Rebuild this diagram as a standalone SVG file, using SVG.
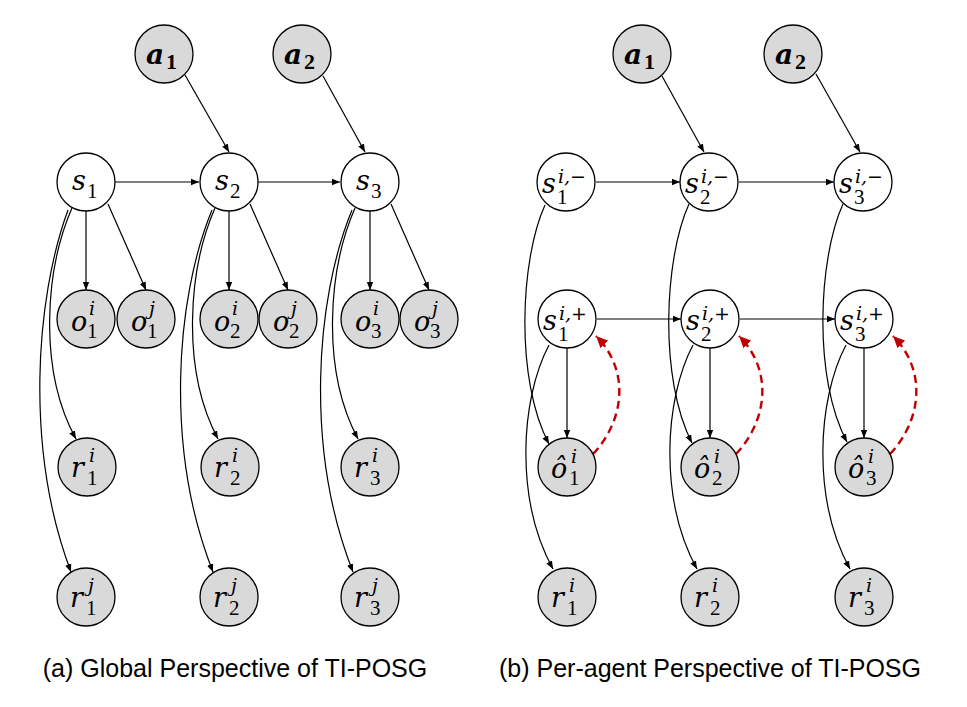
<svg xmlns="http://www.w3.org/2000/svg" width="967" height="707" viewBox="0 0 967 707">
<style>
.g{fill:#d9d9d9;stroke:#000;stroke-width:1.3}
.w{fill:#fff;stroke:#000;stroke-width:1.3}
.e{fill:none;stroke:#000;stroke-width:1.2;marker-end:url(#ah)}
.rd{fill:none;stroke:#c00000;stroke-width:2.4;stroke-dasharray:8,5;marker-end:url(#rh)}
.m{font-family:"DejaVu Serif","Liberation Serif",serif;font-style:italic;font-size:27px;fill:#000}
.b{font-family:"DejaVu Serif","Liberation Serif",serif;font-style:italic;font-weight:bold;font-size:28px;fill:#000}
.sb{font-family:"Liberation Serif","DejaVu Serif",serif;font-size:21px;fill:#000}
.sbb{font-family:"Liberation Serif","DejaVu Serif",serif;font-size:22px;font-weight:bold;fill:#000}
.sp{font-family:"DejaVu Serif","Liberation Serif",serif;font-style:italic;font-size:19px;fill:#000}
.cap{font-family:"Liberation Sans",Arial,sans-serif;font-size:25px;fill:#000;text-anchor:middle}
</style>
<defs>
<marker id="ah" markerUnits="userSpaceOnUse" markerWidth="10" markerHeight="8" refX="8" refY="4" orient="auto"><path d="M0,0.8 L8,4 L0,7.2 Z" fill="#000"/></marker>
<marker id="rh" markerUnits="userSpaceOnUse" markerWidth="14" markerHeight="12" refX="12" refY="6" orient="auto"><path d="M0,0.5 L12,6 L0,11.5 Z" fill="#c00000"/></marker>
</defs>
<rect width="967" height="707" fill="#fff"/>

<g id="connectors">
<line class="e" x1="185" y1="75" x2="229" y2="152"/>
<line class="e" x1="323" y1="76" x2="365" y2="152"/>
<line class="e" x1="115" y1="182" x2="199" y2="182"/>
<line class="e" x1="258" y1="182" x2="340" y2="182"/>
<line class="e" x1="86" y1="211" x2="86" y2="290"/>
<line class="e" x1="108" y1="204" x2="146" y2="290"/>
<line class="e" x1="229" y1="211" x2="229" y2="290"/>
<line class="e" x1="250" y1="204" x2="288" y2="290"/>
<line class="e" x1="370" y1="211" x2="370" y2="290"/>
<line class="e" x1="391" y1="204" x2="429" y2="290"/>
<path class="e" d="M72,208 C45,270 38,370 76,439"/>
<path class="e" d="M68,210 C35,300 25,450 71,572"/>
<path class="e" d="M215,208 C188,270 181,370 218,439"/>
<path class="e" d="M212,210 C175,300 165,450 213,572"/>
<path class="e" d="M355,208 C328,270 321,370 358,439"/>
<path class="e" d="M352,210 C315,300 305,450 353,572"/>
<line class="e" x1="662" y1="76" x2="704" y2="152"/>
<line class="e" x1="816" y1="74" x2="860" y2="152"/>
<line class="e" x1="596" y1="182" x2="680" y2="182"/>
<line class="e" x1="739" y1="182" x2="834" y2="182"/>
<line class="e" x1="597" y1="319" x2="681" y2="319"/>
<line class="e" x1="740" y1="319" x2="835" y2="319"/>
<line class="e" x1="567" y1="348" x2="567" y2="438"/>
<line class="e" x1="710" y1="348" x2="710" y2="438"/>
<line class="e" x1="864" y1="348" x2="864" y2="438"/>
<path class="e" d="M545,205 C520,260 515,380 549,444"/>
<path class="e" d="M549,345 C520,400 515,500 553,569"/>
<path class="e" d="M689,204 C664,259 659,379 692,443"/>
<path class="e" d="M693,345 C664,400 659,500 697,569"/>
<path class="e" d="M843,204 C818,259 813,379 847,442"/>
<path class="e" d="M846,345 C817,400 812,500 850,569"/>
<path class="rd" d="M593,454 C625,420 630,370 596,336"/>
<path class="rd" d="M736,454 C768,420 773,370 739,336"/>
<path class="rd" d="M890,454 C922,420 927,370 893,336"/>
</g>

<g id="L_a1"><circle class="g" cx="164" cy="54" r="29"/><text class="b" x="146" y="64">a</text><text class="sbb" x="166" y="69">1</text></g>
<g id="L_a2"><circle class="g" cx="302" cy="54" r="29"/><text class="b" x="284" y="64">a</text><text class="sbb" x="304" y="69">2</text></g>
<g id="L_s1"><circle class="w" cx="86" cy="182" r="29"/><text class="m" x="72" y="190">s</text><text class="sb" x="87" y="198">1</text></g>
<g id="L_s2"><circle class="w" cx="229" cy="182" r="29"/><text class="m" x="215" y="190">s</text><text class="sb" x="230" y="198">2</text></g>
<g id="L_s3"><circle class="w" cx="370" cy="182" r="29"/><text class="m" x="356" y="190">s</text><text class="sb" x="371" y="198">3</text></g>
<g id="L_o1i"><circle class="g" cx="86" cy="319" r="29"/><text class="m" x="71" y="331">o</text><text class="sp" x="89" y="315">i</text><text class="sb" x="87" y="338">1</text></g>
<g id="L_o1j"><circle class="g" cx="146" cy="319" r="29"/><text class="m" x="131" y="331">o</text><text class="sp" x="149" y="315">j</text><text class="sb" x="147" y="338">1</text></g>
<g id="L_o2i"><circle class="g" cx="229" cy="319" r="29"/><text class="m" x="214" y="331">o</text><text class="sp" x="232" y="315">i</text><text class="sb" x="230" y="338">2</text></g>
<g id="L_o2j"><circle class="g" cx="288" cy="319" r="29"/><text class="m" x="273" y="331">o</text><text class="sp" x="291" y="315">j</text><text class="sb" x="289" y="338">2</text></g>
<g id="L_o3i"><circle class="g" cx="370" cy="319" r="29"/><text class="m" x="355" y="331">o</text><text class="sp" x="373" y="315">i</text><text class="sb" x="371" y="338">3</text></g>
<g id="L_o3j"><circle class="g" cx="429" cy="319" r="29"/><text class="m" x="414" y="331">o</text><text class="sp" x="432" y="315">j</text><text class="sb" x="430" y="338">3</text></g>
<g id="L_r1i"><circle class="g" cx="87" cy="467" r="29"/><text class="m" x="71" y="477">r</text><text class="sp" x="89" y="462">i</text><text class="sb" x="87" y="485">1</text></g>
<g id="L_r2i"><circle class="g" cx="230" cy="467" r="29"/><text class="m" x="214" y="477">r</text><text class="sp" x="232" y="462">i</text><text class="sb" x="230" y="485">2</text></g>
<g id="L_r3i"><circle class="g" cx="370" cy="467" r="29"/><text class="m" x="354" y="477">r</text><text class="sp" x="372" y="462">i</text><text class="sb" x="370" y="485">3</text></g>
<g id="L_r1j"><circle class="g" cx="86" cy="597" r="29"/><text class="m" x="70" y="607">r</text><text class="sp" x="88" y="592">j</text><text class="sb" x="86" y="615">1</text></g>
<g id="L_r2j"><circle class="g" cx="229" cy="597" r="29"/><text class="m" x="213" y="607">r</text><text class="sp" x="231" y="592">j</text><text class="sb" x="229" y="615">2</text></g>
<g id="L_r3j"><circle class="g" cx="370" cy="597" r="29"/><text class="m" x="354" y="607">r</text><text class="sp" x="372" y="592">j</text><text class="sb" x="370" y="615">3</text></g>

<g id="R_a1"><circle class="g" cx="642" cy="54" r="29"/><text class="b" x="624" y="64">a</text><text class="sbb" x="644" y="69">1</text></g>
<g id="R_a2"><circle class="g" cx="793" cy="54" r="29"/><text class="b" x="775" y="64">a</text><text class="sbb" x="795" y="69">2</text></g>
<g id="R_s1m"><circle class="w" cx="566" cy="182" r="29"/><text class="m" x="542" y="193">s</text><text class="sp" x="558" y="183">i,−</text><text class="sb" x="557" y="204">1</text></g>
<g id="R_s2m"><circle class="w" cx="709" cy="182" r="29"/><text class="m" x="685" y="193">s</text><text class="sp" x="701" y="183">i,−</text><text class="sb" x="700" y="204">2</text></g>
<g id="R_s3m"><circle class="w" cx="863" cy="182" r="29"/><text class="m" x="839" y="193">s</text><text class="sp" x="855" y="183">i,−</text><text class="sb" x="854" y="204">3</text></g>
<g id="R_s1p"><circle class="w" cx="567" cy="319" r="29"/><text class="m" x="543" y="330">s</text><text class="sp" x="559" y="320">i,+</text><text class="sb" x="558" y="341">1</text></g>
<g id="R_s2p"><circle class="w" cx="710" cy="319" r="29"/><text class="m" x="686" y="330">s</text><text class="sp" x="702" y="320">i,+</text><text class="sb" x="701" y="341">2</text></g>
<g id="R_s3p"><circle class="w" cx="864" cy="319" r="29"/><text class="m" x="840" y="330">s</text><text class="sp" x="856" y="320">i,+</text><text class="sb" x="855" y="341">3</text></g>
<g id="R_oh1"><circle class="g" cx="567" cy="467" r="29"/><text class="m" x="551" y="478">ô</text><text class="sp" x="571" y="463">i</text><text class="sb" x="569" y="485">1</text></g>
<g id="R_oh2"><circle class="g" cx="710" cy="467" r="29"/><text class="m" x="694" y="478">ô</text><text class="sp" x="714" y="463">i</text><text class="sb" x="712" y="485">2</text></g>
<g id="R_oh3"><circle class="g" cx="864" cy="467" r="29"/><text class="m" x="848" y="478">ô</text><text class="sp" x="868" y="463">i</text><text class="sb" x="866" y="485">3</text></g>
<g id="R_r1"><circle class="g" cx="567" cy="597" r="29"/><text class="m" x="551" y="607">r</text><text class="sp" x="569" y="592">i</text><text class="sb" x="567" y="615">1</text></g>
<g id="R_r2"><circle class="g" cx="710" cy="597" r="29"/><text class="m" x="694" y="607">r</text><text class="sp" x="712" y="592">i</text><text class="sb" x="710" y="615">2</text></g>
<g id="R_r3"><circle class="g" cx="864" cy="597" r="29"/><text class="m" x="848" y="607">r</text><text class="sp" x="866" y="592">i</text><text class="sb" x="864" y="615">3</text></g>

<g id="captions">
<text class="cap" x="235" y="677">(a) Global Perspective of TI-POSG</text>
<text class="cap" x="710" y="677">(b) Per-agent Perspective of TI-POSG</text>
</g>
</svg>
